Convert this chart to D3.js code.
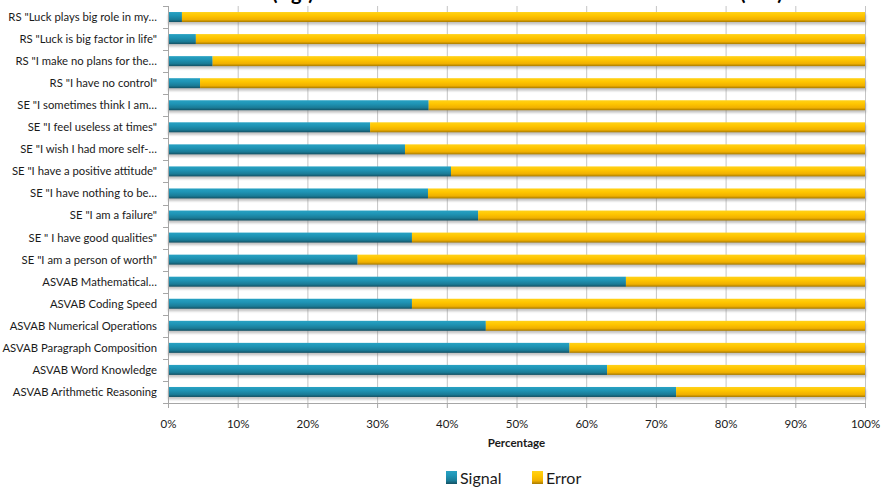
<!DOCTYPE html>
<html>
<head>
<meta charset="utf-8">
<script src="https://cdn.jsdelivr.net/npm/d3@7"></script>
<style>
  html, body { margin: 0; padding: 0; background: #fff; }
  svg { display: block; font-family: Lato, "Open Sans", sans-serif; }
</style>
</head>
<body>
<svg id="chart" width="881" height="488"></svg>
<script>
// Item labels, top to bottom
const categories = [
  'RS "Luck plays big role in my\u2026',
  'RS "Luck is big factor in life"',
  'RS "I make no plans for the\u2026',
  'RS "I have no control"',
  'SE "I sometimes think I am\u2026',
  'SE "I feel useless at times"',
  'SE "I wish I had more self-\u2026',
  'SE "I have a positive attitude"',
  'SE "I have nothing to be\u2026',
  'SE "I am a failure"',
  'SE " I have good qualities"',
  'SE "I am a person of worth"',
  'ASVAB Mathematical\u2026',
  'ASVAB Coding Speed',
  'ASVAB Numerical Operations',
  'ASVAB Paragraph Composition',
  'ASVAB Word Knowledge',
  'ASVAB Arithmetic Reasoning'
];

// Share of variance (%) that is signal; the rest is error
const signal = [2.0, 4.0, 6.4, 4.6, 37.4, 29.0, 34.0, 40.6, 37.3, 44.5, 35.0, 27.2, 65.7, 35.0, 45.6, 57.6, 63.0, 72.9];
const error = signal.map(v => +(100 - v).toFixed(1));

const seriesNames = ["Signal", "Error"];
const xTicks = [0, 10, 20, 30, 40, 50, 60, 70, 80, 90, 100];

const svg = d3.select("#chart");
const plot = { left: 168, right: 865, top: 6, bottom: 403 };

const x = d3.scaleLinear().domain([0, 100]).range([plot.left, plot.right]);
const y = d3.scaleBand().domain(categories).range([plot.top, plot.bottom]).padding(0);
const barH = 10;

// Gradients giving the bars their rounded, shaded look
const defs = svg.append("defs");
function vGrad(id, stops) {
  const g = defs.append("linearGradient").attr("id", id)
    .attr("x1", 0).attr("y1", 0).attr("x2", 0).attr("y2", 1);
  stops.forEach(([o, c]) => g.append("stop").attr("offset", o).attr("stop-color", c));
}
vGrad("gSignal", [[0, "#28a2c3"], [0.35, "#1f94b5"], [0.75, "#1a7b96"], [1, "#135063"]]);
vGrad("gError", [[0, "#ffd21a"], [0.35, "#ffc600"], [0.75, "#f0b000"], [1, "#a77a00"]]);
const fill = { Signal: "url(#gSignal)", Error: "url(#gError)" };

defs.append("filter").attr("id", "shadow").attr("x", "-5%").attr("y", "-50%").attr("width", "110%").attr("height", "200%")
  .append("feGaussianBlur").attr("stdDeviation", 1.2);

// Title, set high so it is clipped at the top edge
const title = svg.append("text")
  .attr("y", -0.5)
  .attr("font-size", 20)
  .attr("font-weight", "bold")
  .attr("fill", "#000");
title.append("tspan").attr("x", 268).attr("text-anchor", "end").text("True Score Variance ");
title.append("tspan").attr("x", 272).attr("text-anchor", "start").text("(sig\u00b2)");
title.append("tspan").attr("x", 540).attr("text-anchor", "middle").text("and Random Error Variance of Each Item");
title.append("tspan").attr("x", 740).attr("text-anchor", "start").text("(err\u00b2)");

// Vertical gridlines
svg.append("g").selectAll("line").data(xTicks).join("line")
  .attr("x1", d => x(d) + 0.5).attr("x2", d => x(d) + 0.5)
  .attr("y1", plot.top).attr("y2", plot.bottom)
  .attr("stroke", "#c4c4c4").attr("stroke-width", 1);

// Stacked data
const rows = categories.map((c, i) => ({ cat: c, Signal: signal[i], Error: error[i] }));
const stacked = d3.stack().keys(seriesNames)(rows);

// Drop shadows beneath each bar
svg.append("g").selectAll("rect").data(rows).join("rect")
  .attr("x", d => x(0))
  .attr("y", d => y(d.cat) + y.bandwidth() / 2 - barH / 2 + 2.5)
  .attr("width", d => x(d.Signal + d.Error) - x(0) + 1)
  .attr("height", barH)
  .attr("fill", "#7a7a7a").attr("opacity", 0.45)
  .attr("filter", "url(#shadow)");

// Bars
svg.append("g").selectAll("g").data(stacked).join("g")
  .attr("fill", s => fill[s.key])
  .selectAll("rect").data(s => s).join("rect")
  .attr("x", d => x(d[0]))
  .attr("y", d => y(d.data.cat) + y.bandwidth() / 2 - barH / 2)
  .attr("width", d => x(d[1]) - x(d[0]))
  .attr("height", barH);

// Y axis: line with tick marks at band boundaries
const yAxis = svg.append("g");
yAxis.append("line")
  .attr("x1", plot.left + 0.5).attr("x2", plot.left + 0.5)
  .attr("y1", plot.top).attr("y2", plot.bottom)
  .attr("stroke", "#a6a6a6");
yAxis.selectAll("line.tk").data(d3.range(categories.length + 1)).join("line").attr("class", "tk")
  .attr("x1", plot.left - 5).attr("x2", plot.left)
  .attr("y1", i => Math.round(plot.top + i * y.step()) + 0.5)
  .attr("y2", i => Math.round(plot.top + i * y.step()) + 0.5)
  .attr("stroke", "#a6a6a6");
yAxis.selectAll("text").data(categories).join("text")
  .attr("x", plot.left - 11)
  .attr("y", d => y(d) + y.bandwidth() / 2)
  .attr("dy", "0.35em")
  .attr("text-anchor", "end")
  .attr("font-size", 11.3)
  .attr("fill", "#1a1a1a")
  .text(d => d);

// X axis
const xAxis = d3.axisBottom(x).tickValues(xTicks).tickFormat(d => d + "%").tickSize(5).tickPadding(12);
const gx = svg.append("g").attr("transform", `translate(0,${plot.bottom})`).call(xAxis);
gx.select(".domain").attr("stroke", "#a6a6a6").attr("d", `M${plot.left},0.5H${plot.right + 1}`);
gx.selectAll(".tick line").attr("stroke", "#a6a6a6");
gx.selectAll(".tick text").attr("font-size", 11.5).attr("fill", "#1a1a1a").attr("font-family", "Lato, sans-serif");

svg.append("text")
  .attr("x", (plot.left + plot.right) / 2)
  .attr("y", 447)
  .attr("text-anchor", "middle")
  .attr("font-size", 11.5)
  .attr("font-weight", "bold")
  .attr("fill", "#1a1a1a")
  .text("Percentage");

// Legend
const legend = svg.append("g").attr("transform", "translate(446,471)");
const legendX = [0, 86];
const li = legend.selectAll("g").data(seriesNames).join("g")
  .attr("transform", (d, i) => `translate(${legendX[i]},0)`);
li.append("rect").attr("width", 11).attr("height", 13).attr("fill", d => fill[d]);
li.append("text").attr("x", 14).attr("y", 12.5)
  .attr("font-size", 16).attr("fill", "#1a1a1a").text(d => d);
</script>
</body>
</html>
